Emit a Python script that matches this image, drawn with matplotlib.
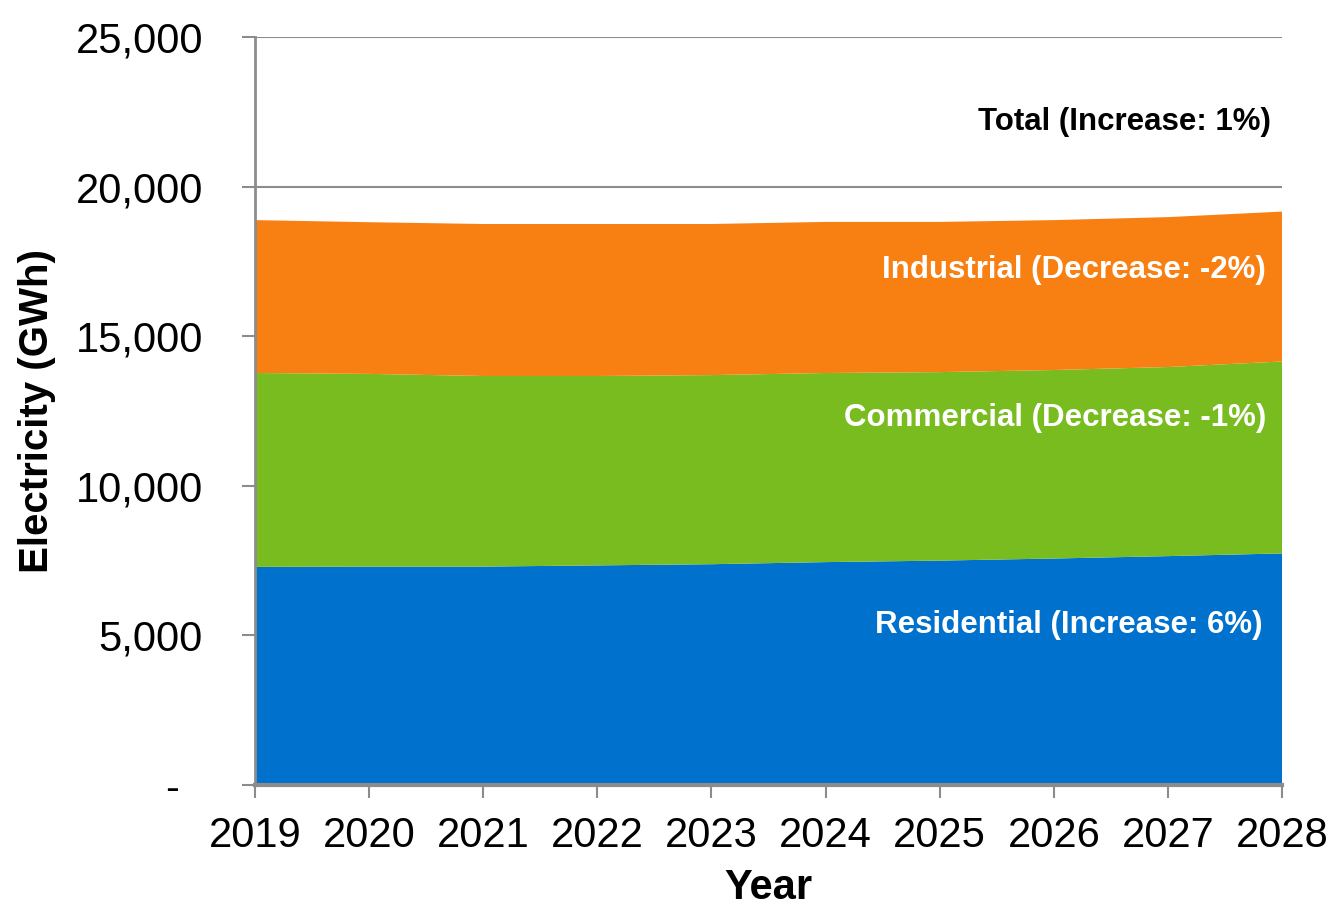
import matplotlib
matplotlib.use("Agg")
import matplotlib.pyplot as plt
from matplotlib.ticker import FuncFormatter

plt.rcParams['font.family'] = ['Liberation Sans', 'DejaVu Sans']

# electricity demand by sector, GWh
years = [2019, 2020, 2021, 2022, 2023, 2024, 2025, 2026, 2027, 2028]
residential = [7290, 7300, 7300, 7340, 7380, 7450, 7500, 7570, 7650, 7740]
commercial = [6480, 6440, 6370, 6330, 6320, 6320, 6300, 6300, 6320, 6415]
industrial = [5110, 5070, 5080, 5080, 5050, 5050, 5020, 5010, 5010, 5010]

labels = ["Residential (Increase: 6%)",
          "Commercial (Decrease: -1%)",
          "Industrial (Decrease: -2%)"]
total_label = "Total (Increase: 1%)"

colors = ["#0071CC", "#78BC20", "#F88012"]
grey = "#8C8C8C"

fig = plt.figure(figsize=(13.33, 9.09), dpi=100)
ax = fig.add_axes([0.1913, 0.1364, 0.7705, 0.8229])

ax.stackplot(years, residential, commercial, industrial, colors=colors, linewidth=0)

ax.set_xlim(2019, 2028)
ax.set_ylim(0, 25000)
ax.set_yticks(range(0, 25001, 5000))
ax.set_xticks(years)
# accounting style: zero shown as a dash
ax.yaxis.set_major_formatter(FuncFormatter(lambda v, p: "-  " if v == 0 else f"{v:,.0f}"))

ax.grid(axis='y', color=grey, linewidth=1.5)
ax.set_axisbelow(True)

for side in ['top', 'right']:
    ax.spines[side].set_visible(False)
ax.spines['left'].set_color(grey)
ax.spines['left'].set_linewidth(2)
ax.spines['bottom'].set_color(grey)
ax.spines['bottom'].set_linewidth(3)

ax.tick_params(axis='y', length=9.5, width=1.5, color=grey, labelsize=30, pad=28)
ax.tick_params(axis='x', length=9, width=1.5, color=grey, labelsize=30, pad=13)

ax.set_ylabel("Electricity (GWh)", fontsize=29, fontweight='bold', labelpad=14)
ax.set_xlabel("Year", fontsize=30, fontweight='bold', labelpad=9)

# series labels on the right side of the plot
fs = 22.5
ax.text(2027.9, 22150, total_label, ha='right', va='center',
        fontsize=fs, fontweight='bold', color='black')
ax.text(2027.86, 17200, labels[2], ha='right', va='center',
        fontsize=fs, fontweight='bold', color='white')
ax.text(2027.86, 12250, labels[1], ha='right', va='center',
        fontsize=fs, fontweight='bold', color='white')
ax.text(2027.83, 5350, labels[0], ha='right', va='center',
        fontsize=fs, fontweight='bold', color='white')

fig.savefig("out.png", dpi=100)
